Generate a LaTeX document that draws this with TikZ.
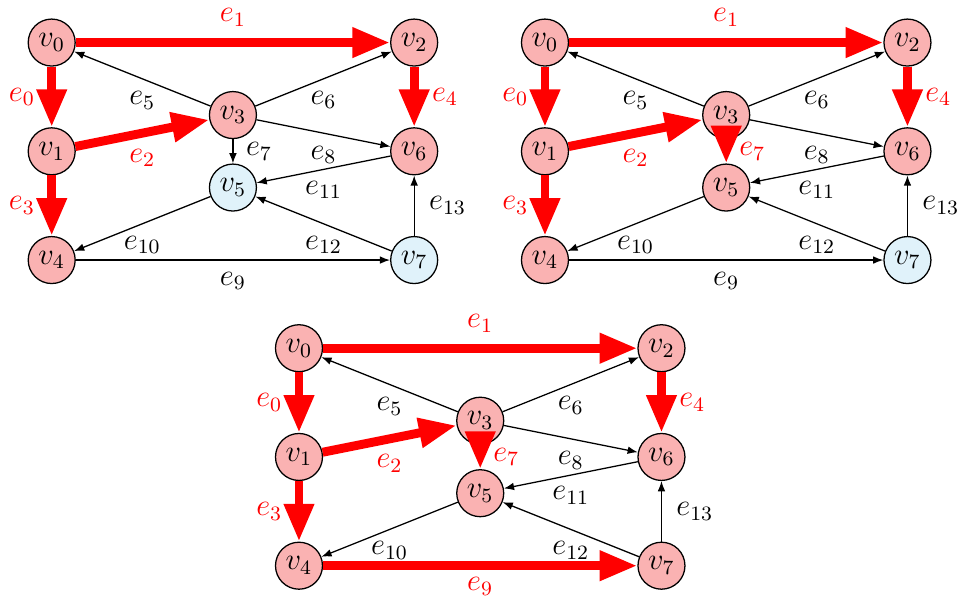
\documentclass[tikz,border=0pt]{standalone}
\usetikzlibrary{arrows.meta}
\definecolor{nodered}{RGB}{250,178,178}
\definecolor{nodeblue}{RGB}{224,242,250}
\tikzset{
 vnode/.style={circle, draw=black, line width=0.5pt, minimum size=0.648cm, inner sep=0pt, font=\fontsize{12}{14}\selectfont},
 rv/.style={vnode, fill=nodered},
 bv/.style={vnode, fill=nodeblue},
 thinedge/.style={draw=black, line width=0.5pt, -{Latex[length=4pt,width=3pt]}},
 thickedge/.style={draw=red, line width=3.5pt, -{Triangle[length=0.52cm,width=0.39cm]}},
 lab/.style={font=\fontsize{12}{14}\selectfont, inner sep=0pt, text=black},
 rlab/.style={lab, text=red},
}
\begin{document}
\begin{tikzpicture}
\useasboundingbox (0,0) rectangle (13.283,8.359);
% ---------- graph 1 ----------
\begin{scope}[shift={(0.713,4.772)}]
 \node[rv] (a0) at (0,3) {$v_0$};
 \node[rv] (a1) at (0,1.5) {$v_1$};
 \node[rv] (a2) at (5,3) {$v_2$};
 \node[rv] (a3) at (2.5,2) {$v_3$};
 \node[rv] (a4) at (0,0) {$v_4$};
 \node[bv] (a5) at (2.5,1) {$v_5$};
 \node[rv] (a6) at (5,1.5) {$v_6$};
 \node[bv] (a7) at (5,0) {$v_7$};
 \draw[thickedge] (a0) -- node[rlab, xshift=-0.41cm] {$e_0$} (a1);
 \draw[thickedge] (a0) -- node[rlab, yshift=0.345cm] {$e_1$} (a2);
 \draw[thickedge] (a1) -- node[rlab, yshift=-0.34cm] {$e_2$} (a3);
 \draw[thickedge] (a1) -- node[rlab, xshift=-0.41cm] {$e_3$} (a4);
 \draw[thickedge] (a2) -- node[rlab, xshift=0.425cm] {$e_4$} (a6);
 \draw[thinedge] (a3) -- node[lab, yshift=-0.30cm] {$e_5$} (a0);
 \draw[thinedge] (a3) -- node[lab, yshift=-0.29cm] {$e_6$} (a2);
 \draw[thinedge] (a3) -- node[lab, xshift=0.36cm] {$e_7$} (a5);
 \draw[thinedge] (a3) -- node[lab, yshift=-0.30cm] {$e_8$} (a6);
 \draw[thinedge] (a4) -- node[lab, yshift=-0.285cm] {$e_9$} (a7);
 \draw[thinedge] (a5) -- node[lab, yshift=-0.29cm] {$e_{10}$} (a4);
 \draw[thinedge] (a6) -- node[lab, yshift=-0.28cm] {$e_{11}$} (a5);
 \draw[thinedge] (a7) -- node[lab, yshift=-0.29cm] {$e_{12}$} (a5);
 \draw[thinedge] (a7) -- node[lab, xshift=0.46cm] {$e_{13}$} (a6);
\end{scope}
% ---------- graph 2 ----------
\begin{scope}[shift={(7.517,4.772)}]
 \node[rv] (b0) at (0,3) {$v_0$};
 \node[rv] (b1) at (0,1.5) {$v_1$};
 \node[rv] (b2) at (5,3) {$v_2$};
 \node[rv] (b3) at (2.5,2) {$v_3$};
 \node[rv] (b4) at (0,0) {$v_4$};
 \node[rv] (b5) at (2.5,1) {$v_5$};
 \node[rv] (b6) at (5,1.5) {$v_6$};
 \node[bv] (b7) at (5,0) {$v_7$};
 \draw[thickedge] (b0) -- node[rlab, xshift=-0.41cm] {$e_0$} (b1);
 \draw[thickedge] (b0) -- node[rlab, yshift=0.345cm] {$e_1$} (b2);
 \draw[thickedge] (b1) -- node[rlab, yshift=-0.34cm] {$e_2$} (b3);
 \draw[thickedge] (b1) -- node[rlab, xshift=-0.41cm] {$e_3$} (b4);
 \draw[thickedge] (b2) -- node[rlab, xshift=0.425cm] {$e_4$} (b6);
 \draw[thinedge] (b3) -- node[lab, yshift=-0.30cm] {$e_5$} (b0);
 \draw[thinedge] (b3) -- node[lab, yshift=-0.29cm] {$e_6$} (b2);
 \draw[thickedge] (b3) -- node[rlab, xshift=0.36cm] {$e_7$} (b5);
 \draw[thinedge] (b3) -- node[lab, yshift=-0.30cm] {$e_8$} (b6);
 \draw[thinedge] (b4) -- node[lab, yshift=-0.285cm] {$e_9$} (b7);
 \draw[thinedge] (b5) -- node[lab, yshift=-0.29cm] {$e_{10}$} (b4);
 \draw[thinedge] (b6) -- node[lab, yshift=-0.28cm] {$e_{11}$} (b5);
 \draw[thinedge] (b7) -- node[lab, yshift=-0.29cm] {$e_{12}$} (b5);
 \draw[thinedge] (b7) -- node[lab, xshift=0.46cm] {$e_{13}$} (b6);
\end{scope}
% ---------- graph 3 ----------
\begin{scope}[shift={(4.124,0.556)}]
 \node[rv] (c0) at (0,3) {$v_0$};
 \node[rv] (c1) at (0,1.5) {$v_1$};
 \node[rv] (c2) at (5,3) {$v_2$};
 \node[rv] (c3) at (2.5,2) {$v_3$};
 \node[rv] (c4) at (0,0) {$v_4$};
 \node[rv] (c5) at (2.5,1) {$v_5$};
 \node[rv] (c6) at (5,1.5) {$v_6$};
 \node[rv] (c7) at (5,0) {$v_7$};
 \draw[thickedge] (c0) -- node[rlab, xshift=-0.41cm] {$e_0$} (c1);
 \draw[thickedge] (c0) -- node[rlab, yshift=0.345cm] {$e_1$} (c2);
 \draw[thickedge] (c1) -- node[rlab, yshift=-0.34cm] {$e_2$} (c3);
 \draw[thickedge] (c1) -- node[rlab, xshift=-0.41cm] {$e_3$} (c4);
 \draw[thickedge] (c2) -- node[rlab, xshift=0.425cm] {$e_4$} (c6);
 \draw[thinedge] (c3) -- node[lab, yshift=-0.30cm] {$e_5$} (c0);
 \draw[thinedge] (c3) -- node[lab, yshift=-0.29cm] {$e_6$} (c2);
 \draw[thickedge] (c3) -- node[rlab, xshift=0.36cm] {$e_7$} (c5);
 \draw[thinedge] (c3) -- node[lab, yshift=-0.30cm] {$e_8$} (c6);
 \draw[thickedge] (c4) -- node[rlab, yshift=-0.285cm] {$e_9$} (c7);
 \draw[thinedge] (c5) -- node[lab, yshift=-0.29cm] {$e_{10}$} (c4);
 \draw[thinedge] (c6) -- node[lab, yshift=-0.28cm] {$e_{11}$} (c5);
 \draw[thinedge] (c7) -- node[lab, yshift=-0.29cm] {$e_{12}$} (c5);
 \draw[thinedge] (c7) -- node[lab, xshift=0.46cm] {$e_{13}$} (c6);
\end{scope}
\end{tikzpicture}
\end{document}
